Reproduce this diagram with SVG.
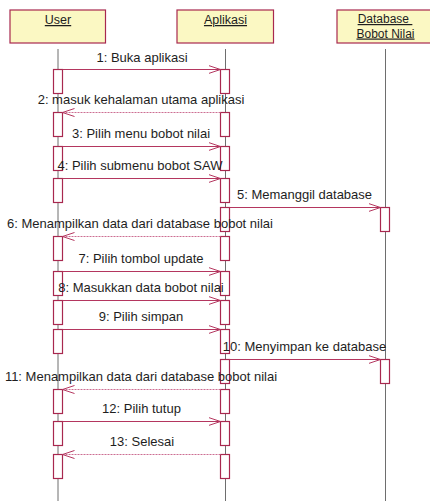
<svg xmlns="http://www.w3.org/2000/svg" width="430" height="501" viewBox="0 0 430 501">
  <style>
    .head { fill: #FBF8C3; stroke: #A8284F; stroke-width: 1.2; }
    .life { stroke: #6E6E6E; stroke-width: 1; }
    .act { fill: #FFFFFF; stroke: #A8284F; stroke-width: 1.2; }
    .msg { stroke: #B4365F; stroke-width: 1; fill: none; marker-end: url(#open); }
    .ret { stroke: #CC6E92; stroke-width: 1; stroke-dasharray: 2 1; fill: none; marker-end: url(#open); }
    text { font-family: "Liberation Sans", Arial, sans-serif; font-size: 13px; fill: #1E1E1E; }
    .lbl { text-anchor: middle; }
    .obj { text-anchor: middle; text-decoration: underline; white-space: pre; font-size: 12.5px; }
    .obj2 { text-anchor: middle; text-decoration: underline; white-space: pre; font-size: 12px; }
  </style>
  <defs>
    <marker id="open" markerUnits="userSpaceOnUse" markerWidth="14" markerHeight="10" refX="12" refY="4.5" orient="auto">
      <path d="M0,0.5 L12,4.5 L0,8.5" fill="none" stroke="#B4365F" stroke-width="1"/>
    </marker>
  </defs>

  <!-- lifelines -->
  <g id="lifelines">
    <line class="life" x1="58" y1="49" x2="58" y2="501"/>
    <line class="life" x1="225.5" y1="49" x2="225.5" y2="501"/>
    <line class="life" x1="385.5" y1="49" x2="385.5" y2="501"/>
  </g>

  <!-- participants -->
  <g id="user">
    <rect class="head" x="10" y="10" width="95.5" height="33"/>
    <text class="obj" x="58" y="24">User</text>
  </g>
  <g id="aplikasi">
    <rect class="head" x="177" y="10" width="96.5" height="33"/>
    <text class="obj" x="225.5" y="24">Aplikasi</text>
  </g>
  <g id="database">
    <rect class="head" x="337" y="10" width="97" height="33"/>
    <text class="obj2" x="385" y="23" xml:space="preserve">Database </text>
    <text class="obj2" x="385.5" y="37.5">Bobot Nilai</text>
  </g>

  <!-- activation bars -->
  <g id="activations">
    <rect class="act" x="53.5" y="69.5" width="9" height="24"/>
    <rect class="act" x="220.5" y="69.5" width="9" height="24"/>
    <rect class="act" x="53.5" y="112.5" width="9" height="24"/>
    <rect class="act" x="220.5" y="112.5" width="9" height="24"/>
    <rect class="act" x="53.5" y="146.5" width="9" height="24"/>
    <rect class="act" x="220.5" y="146.5" width="9" height="24"/>
    <rect class="act" x="53.5" y="178.5" width="9" height="24"/>
    <rect class="act" x="220.5" y="178.5" width="9" height="24"/>
    <rect class="act" x="220.5" y="207.5" width="9" height="24"/>
    <rect class="act" x="380.5" y="207.5" width="9" height="24"/>
    <rect class="act" x="53.5" y="236.5" width="9" height="24"/>
    <rect class="act" x="220.5" y="236.5" width="9" height="24"/>
    <rect class="act" x="53.5" y="271.5" width="9" height="24"/>
    <rect class="act" x="220.5" y="271.5" width="9" height="24"/>
    <rect class="act" x="53.5" y="300.5" width="9" height="24"/>
    <rect class="act" x="220.5" y="300.5" width="9" height="24"/>
    <rect class="act" x="53.5" y="329.5" width="9" height="24"/>
    <rect class="act" x="220.5" y="329.5" width="9" height="24"/>
    <rect class="act" x="220.5" y="359.5" width="9" height="24"/>
    <rect class="act" x="380.5" y="359.5" width="9" height="24"/>
    <rect class="act" x="53.5" y="389.5" width="9" height="24"/>
    <rect class="act" x="220.5" y="389.5" width="9" height="24"/>
    <rect class="act" x="53.5" y="421.5" width="9" height="24"/>
    <rect class="act" x="220.5" y="421.5" width="9" height="24"/>
    <rect class="act" x="53.5" y="454.5" width="9" height="24"/>
    <rect class="act" x="220.5" y="454.5" width="9" height="24"/>
  </g>

  <!-- messages -->
  <g id="connectors">
    <line class="msg" x1="62.5" y1="69.5" x2="220.5" y2="69.5"/>
    <line class="ret" x1="220.5" y1="112.5" x2="62.5" y2="112.5"/>
    <line class="msg" x1="62.5" y1="146.5" x2="220.5" y2="146.5"/>
    <line class="msg" x1="62.5" y1="178.5" x2="220.5" y2="178.5"/>
    <line class="msg" x1="229.5" y1="207.5" x2="380.5" y2="207.5"/>
    <line class="ret" x1="220.5" y1="236.5" x2="62.5" y2="236.5"/>
    <line class="msg" x1="62.5" y1="271.5" x2="220.5" y2="271.5"/>
    <line class="msg" x1="62.5" y1="300.5" x2="220.5" y2="300.5"/>
    <line class="msg" x1="62.5" y1="329.5" x2="220.5" y2="329.5"/>
    <line class="msg" x1="229.5" y1="359.5" x2="380.5" y2="359.5"/>
    <line class="ret" x1="220.5" y1="389.5" x2="62.5" y2="389.5"/>
    <line class="msg" x1="62.5" y1="421.5" x2="220.5" y2="421.5"/>
    <line class="ret" x1="220.5" y1="454.5" x2="62.5" y2="454.5"/>
  </g>

  <!-- message labels -->
  <g id="labels">
    <text class="lbl" x="142" y="61.5">1: Buka aplikasi</text>
    <text class="lbl" x="141" y="103.5">2: masuk kehalaman utama aplikasi</text>
    <text class="lbl" x="141" y="137.5">3: Pilih menu bobot nilai</text>
    <text class="lbl" x="140" y="169.5">4: Pilih submenu bobot SAW</text>
    <text class="lbl" x="304.5" y="198.5">5: Memanggil database</text>
    <text class="lbl" x="140" y="228">6: Menampilkan data dari database bobot nilai</text>
    <text class="lbl" x="141" y="262.5">7: Pilih tombol update</text>
    <text class="lbl" x="141" y="291.5">8: Masukkan data bobot nilai</text>
    <text class="lbl" x="141" y="321">9: Pilih simpan</text>
    <text class="lbl" x="304.5" y="351">10: Menyimpan ke database</text>
    <text class="lbl" x="141" y="380.5">11: Menampilkan data dari database bobot nilai</text>
    <text class="lbl" x="141.5" y="412.5">12: Pilih tutup</text>
    <text class="lbl" x="142" y="445.5">13: Selesai</text>
  </g>
</svg>
